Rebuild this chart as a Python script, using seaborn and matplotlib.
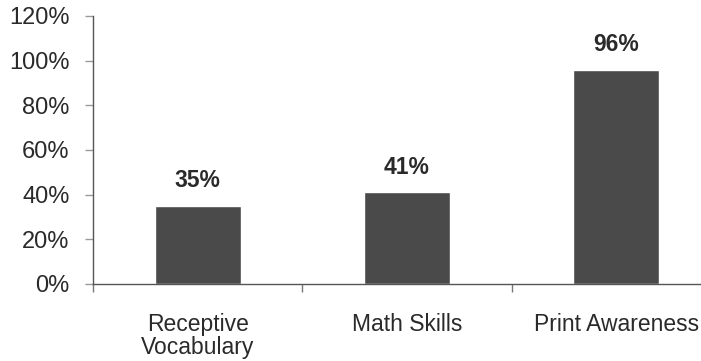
import seaborn as sns
import matplotlib.pyplot as plt
import pandas as pd

categories = ["Receptive\nVocabulary", "Math Skills", "Print Awareness"]
values = [35, 41, 96]
yticks = [0, 20, 40, 60, 80, 100, 120]

sns.set_theme(style="white")
plt.rcParams['font.family'] = ['Liberation Sans', 'DejaVu Sans']

df = pd.DataFrame({"cat": categories, "val": values})

fig = plt.figure(figsize=(7.01, 3.61), dpi=100)
# axes runs past the right edge like the scanned original
ax = fig.add_axes([93/701, 1-284/361, 628/701, 268/361])

sns.barplot(data=df, x="cat", y="val", color="#4a4a4a", width=0.41,
            saturation=1, ax=ax)

for i, v in enumerate(values):
    ax.text(i, v + 6, f"{v}%", ha="center", va="bottom",
            fontsize=16.5, fontweight="bold", color="#2a2a2a")

ax.set_xlim(-0.5, 2.5)
ax.set_ylim(0, 120)
ax.set_yticks(yticks)
ax.set_yticklabels([f"{t}%" for t in yticks], fontsize=17, color="#2a2a2a")
ax.set_xticks(range(len(categories)))
ax.set_xticklabels(categories, fontsize=16.5, color="#2a2a2a", linespacing=1.0)
ax.set_xticks([-0.5, 0.5, 1.5, 2.5], minor=True)
ax.tick_params(axis="x", which="major", length=0, pad=21)
ax.tick_params(axis="x", which="minor", length=6, width=1, color="#777777",
               direction="out", bottom=True)
ax.tick_params(axis="y", which="major", length=6, width=1, color="#999999",
               direction="out", left=True, pad=11)
ax.set_xlabel("")
ax.set_ylabel("")

sns.despine(ax=ax)
for s in ["left", "bottom"]:
    ax.spines[s].set_color("#555555")
    ax.spines[s].set_linewidth(1)

fig.savefig("out.png", dpi=100)
